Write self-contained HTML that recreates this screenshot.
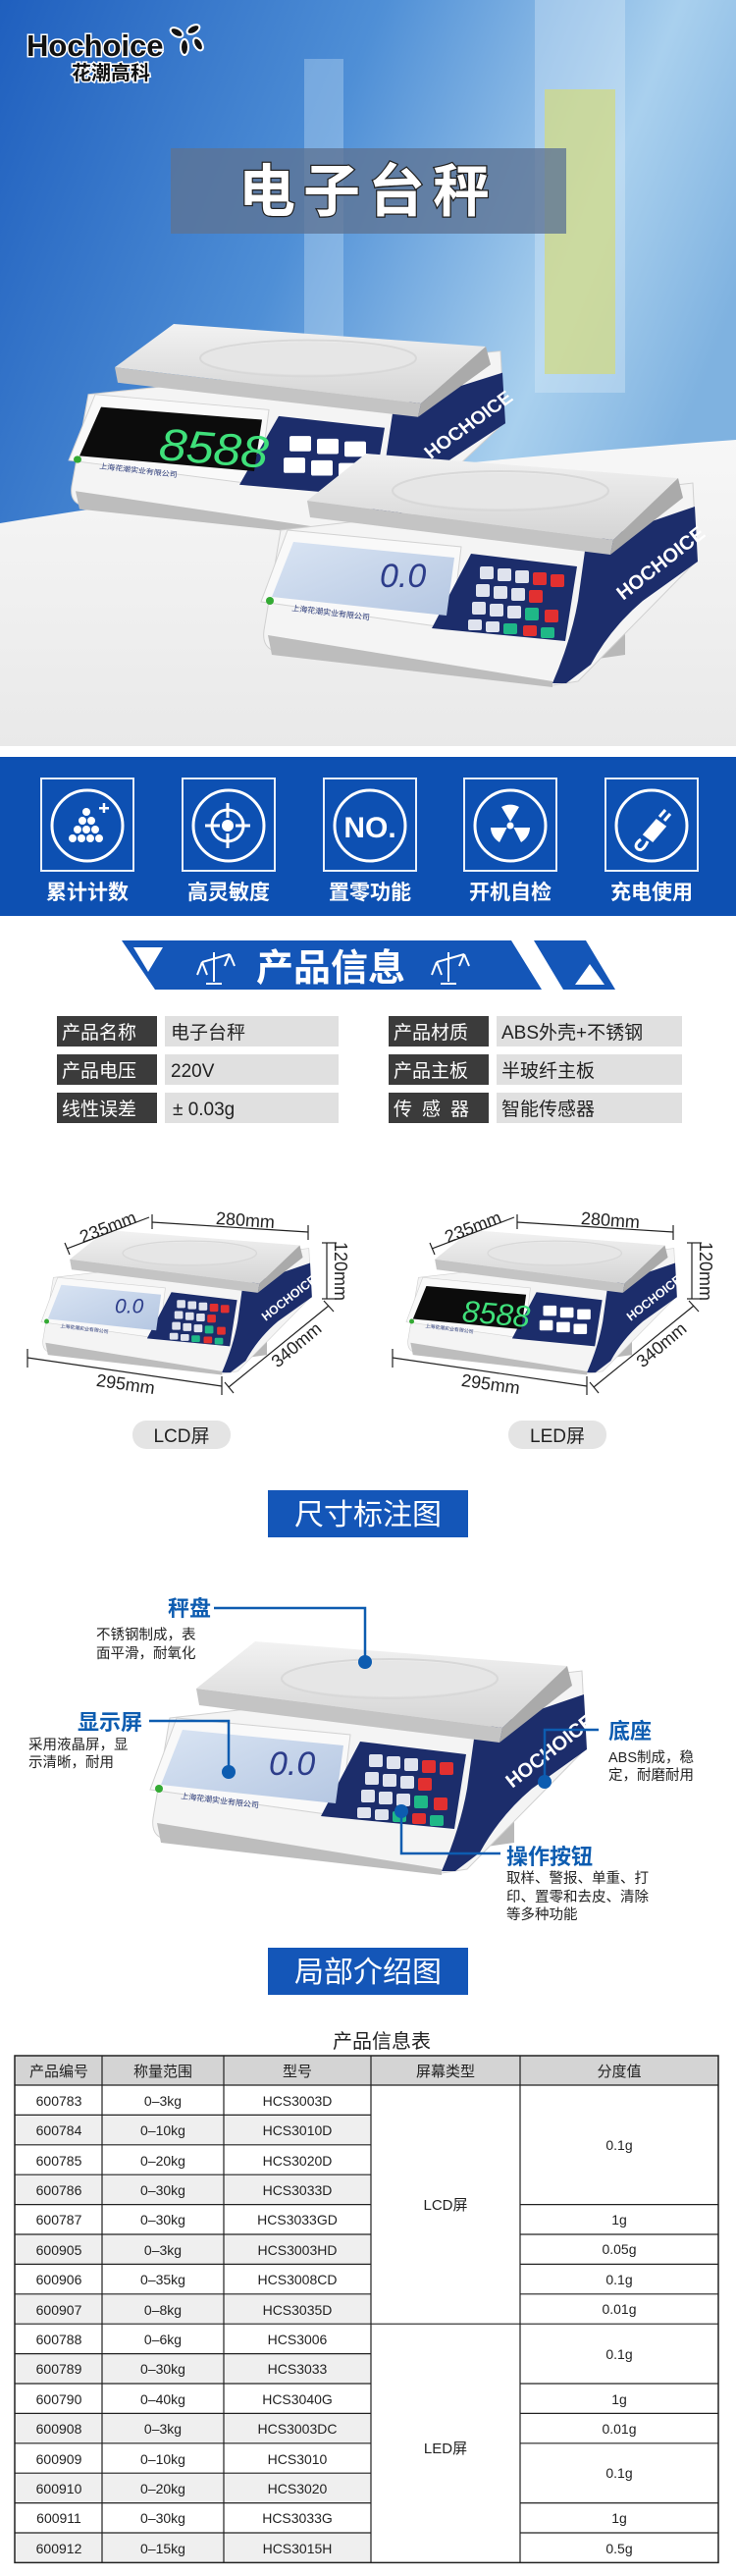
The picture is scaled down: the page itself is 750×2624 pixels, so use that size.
<!DOCTYPE html>
<html><head><meta charset="utf-8"><style>
html,body{margin:0;padding:0;background:#fff;}
svg{display:block}
</style></head><body>
<svg width="750" height="2624" viewBox="0 0 750 2624" xmlns="http://www.w3.org/2000/svg" font-family="'Liberation Sans','Noto Sans CJK SC',sans-serif">
<defs>
<linearGradient id="sky" x1="0" y1="0" x2="1" y2="0.4">
<stop offset="0" stop-color="#1f5fbe"/><stop offset="0.45" stop-color="#4f8fd6"/><stop offset="0.8" stop-color="#a9d0ee"/><stop offset="1" stop-color="#7fb2e0"/></linearGradient>
<linearGradient id="floor" x1="0" y1="0" x2="0" y2="1"><stop offset="0" stop-color="#f7f7f7"/><stop offset="1" stop-color="#e9e9e9"/></linearGradient>
<linearGradient id="pan" x1="0" y1="0" x2="0" y2="1"><stop offset="0" stop-color="#f2f2f2"/><stop offset="1" stop-color="#d4d4d4"/></linearGradient>
<linearGradient id="lcd" x1="0" y1="0" x2="1" y2="1"><stop offset="0" stop-color="#d9e4f3"/><stop offset="1" stop-color="#b5c7e2"/></linearGradient>
<g id="scale">
<polygon points="330,160 400,150 400,205 330,215" fill="#b8b8b8"/>
<path d="M49,78 L469,30 L473,109 L352,232 L326,236 L40,200 Q30,195 32,180 Z" fill="#f4f4f4" stroke="#d0d0d0" stroke-width="1"/>
<path d="M36,185 L326,232 L326,238 L40,205 Z" fill="#bdbdbd"/>
<path d="M360,92 L471,54 L474,110 L418,150 Q385,178 365,215 L340,234 L326,234 Q345,190 352,150 Z" fill="#1c2d6b"/>
<text x="0" y="0" transform="translate(398,150) rotate(-38)" font-size="20" font-weight="bold" fill="#fff" font-family="'Liberation Sans Narrow','Liberation Sans',sans-serif">HOCHOICE</text>
<polygon points="76,48 136,0 454,25 388,88" fill="url(#pan)"/>
<polygon points="76,48 388,88 385,103 79,65" fill="#c4c4c4"/>
<polygon points="388,88 454,25 459,45 385,103" fill="#aaa"/>
<ellipse cx="273" cy="38" rx="110" ry="20" fill="none" stroke="#d8d8d8" stroke-width="2"/>
<ellipse cx="273" cy="38" rx="108" ry="18" fill="#e6e6e6"/>
<polygon points="56,78 233,95 223,178 29,151" fill="#f9f9f9" stroke="#d2d2d2"/>
<polygon points="243,102 351,115 339,191 203,178" fill="#1c2d6b"/>
<circle cx="38" cy="150" r="4" fill="#3a3"/>
<text x="60" y="160" font-size="8" fill="#2a3a7a" transform="rotate(7 60 160)">上海花潮实业有限公司</text>
</g>
<g id="lcdscr">
<polygon points="62,90 226,106 218,165 40,146" fill="url(#lcd)"/>
<text x="150" y="136" font-size="34" font-style="italic" fill="#2d3d8a" font-family="'Liberation Sans Narrow','Liberation Sans',sans-serif">0.0</text>
<g fill="#dfe3ee"><rect x="252" y="115" width="14" height="13" rx="2"/><rect x="270" y="117" width="14" height="13" rx="2"/><rect x="288" y="119" width="14" height="13" rx="2"/><rect x="248" y="133" width="14" height="13" rx="2"/><rect x="266" y="135" width="14" height="13" rx="2"/><rect x="284" y="137" width="14" height="13" rx="2"/><rect x="244" y="151" width="14" height="13" rx="2"/><rect x="262" y="153" width="14" height="13" rx="2"/><rect x="280" y="155" width="14" height="13" rx="2"/><rect x="240" y="169" width="14" height="11" rx="2"/><rect x="258" y="171" width="14" height="11" rx="2"/></g>
<g fill="#e23030"><rect x="306" y="121" width="14" height="13" rx="2"/><rect x="324" y="123" width="14" height="13" rx="2"/><rect x="302" y="139" width="14" height="13" rx="2"/><rect x="318" y="159" width="14" height="13" rx="2"/><rect x="296" y="175" width="14" height="11" rx="2"/></g>
<g fill="#1fb887"><rect x="298" y="157" width="14" height="13" rx="2"/><rect x="276" y="173" width="14" height="11" rx="2"/><rect x="314" y="177" width="14" height="11" rx="2"/></g>
</g>
<g id="ledscr">
<polygon points="62,92 226,106 218,163 40,146" fill="#0c0c0c"/>
<text x="120" y="150" font-size="50" font-style="italic" fill="#3fe07a" font-family="'Liberation Sans Narrow','Liberation Sans',sans-serif" transform="rotate(5 120 150)">8588</text>
<g fill="#fff"><rect x="254" y="124" width="22" height="17" rx="2"/><rect x="282" y="127" width="22" height="17" rx="2"/><rect x="310" y="130" width="22" height="17" rx="2"/><rect x="248" y="148" width="22" height="17" rx="2"/><rect x="276" y="151" width="22" height="17" rx="2"/><rect x="304" y="154" width="22" height="17" rx="2"/></g>
</g>
</defs>

<!-- HERO -->
<rect x="0" y="0" width="750" height="760" fill="url(#sky)"/>
<rect x="555" y="91" width="72" height="290" fill="#c9cf46" opacity="0.75"/>
<rect x="545" y="0" width="92" height="400" fill="#dfeefa" opacity="0.35"/>
<rect x="310" y="60" width="40" height="420" fill="#cfe4f6" opacity="0.35"/>
<path d="M0,533 C200,500 450,470 750,448 L750,760 L0,760 Z" fill="url(#floor)"/>
<g font-weight="bold">
<text x="27" y="57" font-size="31" fill="#111" stroke="#fff" stroke-width="3" paint-order="stroke">Hochoice</text>
<text x="73" y="81" font-size="20" fill="#111" stroke="#fff" stroke-width="3" paint-order="stroke">花潮高科</text>
<g fill="#111" stroke="#fff" stroke-width="2"><ellipse cx="180" cy="33" rx="7" ry="4" transform="rotate(30 180 33)"/><ellipse cx="197" cy="30" rx="7" ry="4" transform="rotate(-30 197 30)"/><ellipse cx="188" cy="48" rx="4" ry="8"/><ellipse cx="202" cy="45" rx="4" ry="7" transform="rotate(-30 202 45)"/></g>
</g>
<rect x="174" y="151" width="403" height="87" fill="#5d7394" opacity="0.78"/>
<text x="375" y="215" text-anchor="middle" font-size="58" font-weight="bold" fill="#fff" stroke="#222" stroke-width="2.5" paint-order="stroke" letter-spacing="8">电子台秤</text>
<g transform="translate(41,330) scale(1.0,0.92)"><use href="#scale"/><use href="#ledscr"/></g>
<g transform="translate(237,462)"><use href="#scale"/><use href="#lcdscr"/></g>

<!-- BLUE BAND -->
<rect x="0" y="771" width="750" height="162" fill="#0d50b2"/>
<g fill="none" stroke="#e8f0fb" stroke-width="2">
<rect x="42" y="793" width="94" height="94"/><rect x="186" y="793" width="94" height="94"/><rect x="330" y="793" width="94" height="94"/><rect x="473" y="793" width="94" height="94"/><rect x="617" y="793" width="94" height="94"/>
</g>
<g fill="none" stroke="#fff" stroke-width="3">
<circle cx="89" cy="841" r="36"/><circle cx="233" cy="841" r="36"/><circle cx="377" cy="841" r="36"/><circle cx="520" cy="841" r="36"/><circle cx="664" cy="841" r="36"/>
</g>
<g fill="#fff">
<circle cx="88" cy="827" r="4"/><circle cx="84" cy="836" r="4"/><circle cx="93" cy="836" r="4"/><circle cx="79" cy="845" r="4"/><circle cx="88" cy="845" r="4"/><circle cx="97" cy="845" r="4"/><circle cx="74" cy="854" r="4"/><circle cx="83" cy="854" r="4"/><circle cx="92" cy="854" r="4"/><circle cx="101" cy="854" r="4"/>
<rect x="101" y="822" width="10" height="2.5"/><rect x="104.7" y="818" width="2.5" height="10"/>
<circle cx="232" cy="841" r="6"/>
<text x="377" y="853" text-anchor="middle" font-size="30" font-weight="bold" font-family="'Liberation Sans Narrow','Liberation Sans',sans-serif">NO.</text>
<circle cx="520" cy="841" r="3.5"/>
<path d="M520,837 L511,822 A18,18 0 0 1 529,822 Z"/>
<path d="M523.5,843 L540,843 A18,18 0 0 1 531,858 Z"/>
<path d="M516.5,843 L500,843 A18,18 0 0 0 509,858 Z"/>
</g>
<g fill="none" stroke="#fff" stroke-width="3">
<circle cx="232" cy="841" r="16"/><line x1="232" y1="818" x2="232" y2="833"/><line x1="232" y1="849" x2="232" y2="864"/><line x1="209" y1="841" x2="224" y2="841"/><line x1="240" y1="841" x2="255" y2="841"/>
<path d="M653,855 q-8,6 -3,10 q5,3 10,-8"/><path d="M657,850 l12,-14 8,6 -12,14 z" fill="#fff"/><line x1="672" y1="832" x2="678" y2="825"/><line x1="677" y1="836" x2="683" y2="829"/>
</g>
<g fill="#fff" font-size="21" font-weight="bold" text-anchor="middle">
<text x="89" y="916">累计计数</text><text x="233" y="916">高灵敏度</text><text x="377" y="916">置零功能</text><text x="520" y="916">开机自检</text><text x="664" y="916">充电使用</text>
</g>

<!-- PRODUCT INFO BANNER -->
<polygon points="124,958 521,958 552,1008 158,1008" fill="#1456b8"/>
<polygon points="544,958 597,958 627,1008 574,1008" fill="#1456b8"/>
<polygon points="136,965 166,965 151,990" fill="#fff"/>
<polygon points="601,982 616,1003 586,1003" fill="#fff"/>
<g fill="none" stroke="#fff" stroke-width="2">
<path d="M218,970 L218,1000 M210,1002 L226,1002 M206,980 L234,972 M206,980 L201,993 M206,980 L211,993 M234,972 L229,984 M234,972 L239,984"/>
<path d="M457,970 L457,1000 M449,1002 L465,1002 M445,980 L473,972 M445,980 L440,993 M445,980 L450,993 M473,972 L468,984 M473,972 L478,984"/>
</g>
<text x="337" y="999" text-anchor="middle" font-size="38" fill="#fff" font-weight="bold">产品信息</text>

<!-- SPEC TABLE -->
<g font-size="19">
<rect x="58" y="1035" width="102" height="31" fill="#3b3b3b"/><rect x="168" y="1035" width="177" height="31" fill="#e0e0e0"/>
<rect x="58" y="1074" width="102" height="31" fill="#3b3b3b"/><rect x="168" y="1074" width="177" height="31" fill="#e0e0e0"/>
<rect x="58" y="1113" width="102" height="31" fill="#3b3b3b"/><rect x="168" y="1113" width="177" height="31" fill="#e0e0e0"/>
<rect x="396" y="1035" width="102" height="31" fill="#3b3b3b"/><rect x="506" y="1035" width="189" height="31" fill="#e0e0e0"/>
<rect x="396" y="1074" width="102" height="31" fill="#3b3b3b"/><rect x="506" y="1074" width="189" height="31" fill="#e0e0e0"/>
<rect x="396" y="1113" width="102" height="31" fill="#3b3b3b"/><rect x="506" y="1113" width="189" height="31" fill="#e0e0e0"/>
<g fill="#fff"><text x="63" y="1058">产品名称</text><text x="63" y="1097">产品电压</text><text x="63" y="1136">线性误差</text>
<text x="401" y="1058">产品材质</text><text x="401" y="1097">产品主板</text><text x="401" y="1136" letter-spacing="10">传感器</text></g>
<g fill="#222"><text x="174" y="1058">电子台秤</text><text x="174" y="1097">220V</text><text x="176" y="1136">± 0.03g</text>
<text x="511" y="1058">ABS外壳+不锈钢</text><text x="511" y="1097">半玻纤主板</text><text x="511" y="1136">智能传感器</text></g>
</g>

<!-- DIMENSION SCALES -->
<g transform="translate(24,1253) scale(0.62)"><use href="#scale"/><use href="#lcdscr"/></g>
<g transform="translate(396,1253) scale(0.62)"><use href="#scale"/><use href="#ledscr"/></g>
<g id="dims" stroke="#222" stroke-width="1.2" fill="none">
<line x1="155" y1="1245" x2="314" y2="1255"/><line x1="155" y1="1237" x2="155" y2="1252"/><line x1="314" y1="1248" x2="314" y2="1263"/>
<line x1="68" y1="1272" x2="152" y2="1240"/><line x1="66" y1="1266" x2="71" y2="1278"/>
<line x1="333" y1="1266" x2="333" y2="1323"/><line x1="328" y1="1266" x2="343" y2="1266"/><line x1="328" y1="1323" x2="343" y2="1323"/>
<line x1="28" y1="1383" x2="226" y2="1412"/><line x1="28" y1="1374" x2="28" y2="1393"/><line x1="226" y1="1402" x2="226" y2="1421"/>
<line x1="233" y1="1413" x2="335" y2="1330"/><line x1="229" y1="1408" x2="238" y2="1419"/><line x1="330" y1="1325" x2="340" y2="1336"/>
</g>
<g font-size="18" fill="#222">
<text x="250" y="1249" text-anchor="middle" transform="rotate(4 250 1243)">280mm</text>
<text x="110" y="1256" text-anchor="middle" transform="rotate(-21 110 1250)">235mm</text>
<text x="347" y="1301" text-anchor="middle" transform="rotate(90 347 1295)">120mm</text>
<text x="128" y="1416" text-anchor="middle" transform="rotate(8 128 1410)">295mm</text>
<text x="302" y="1376" text-anchor="middle" transform="rotate(-40 302 1370)">340mm</text>
</g>
<use href="#dims" transform="translate(372,0)"/>
<g font-size="18" fill="#222">
<text x="622" y="1249" text-anchor="middle" transform="rotate(4 622 1243)">280mm</text>
<text x="482" y="1256" text-anchor="middle" transform="rotate(-21 482 1250)">235mm</text>
<text x="719" y="1301" text-anchor="middle" transform="rotate(90 719 1295)">120mm</text>
<text x="500" y="1416" text-anchor="middle" transform="rotate(8 500 1410)">295mm</text>
<text x="674" y="1376" text-anchor="middle" transform="rotate(-40 674 1370)">340mm</text>
</g>
<rect x="135" y="1447" width="100" height="29" rx="14" fill="#e4e4e4"/>
<rect x="518" y="1447" width="100" height="29" rx="14" fill="#e4e4e4"/>
<text x="185" y="1469" text-anchor="middle" font-size="19" fill="#222">LCD屏</text>
<text x="568" y="1469" text-anchor="middle" font-size="19" fill="#222">LED屏</text>

<rect x="273" y="1518" width="204" height="48" fill="#1456b8"/>
<text x="375" y="1553" text-anchor="middle" font-size="30" fill="#fff">尺寸标注图</text>

<!-- CALLOUT SECTION -->
<g transform="translate(124,1672)"><use href="#scale"/><use href="#lcdscr"/></g>
<g stroke="#0d5cb0" stroke-width="2.5" fill="none">
<path d="M218,1638 L372,1638 L372,1693"/>
<path d="M152,1753 L233,1753 L233,1805"/>
<path d="M610,1762 L555,1762 L555,1815"/>
<path d="M510,1888 L409,1888 L409,1845"/>
</g>
<g fill="#0d5cb0"><circle cx="372" cy="1693" r="7"/><circle cx="233" cy="1805" r="7"/><circle cx="555" cy="1815" r="7"/><circle cx="409" cy="1845" r="7"/></g>
<g fill="#0d5cb0" font-weight="bold" font-size="22">
<text x="171" y="1646">秤盘</text><text x="79" y="1762">显示屏</text><text x="620" y="1771">底座</text><text x="516" y="1899">操作按钮</text>
</g>
<g fill="#222" font-size="14.5">
<text x="98" y="1670">不锈钢制成，表</text><text x="98" y="1689">面平滑，耐氧化</text>
<text x="29" y="1782">采用液晶屏，显</text><text x="29" y="1800">示清晰，耐用</text>
<text x="620" y="1795">ABS制成，稳</text><text x="620" y="1813">定，耐磨耐用</text>
<text x="516" y="1918">取样、警报、单重、打</text><text x="516" y="1937">印、置零和去皮、清除</text><text x="516" y="1955">等多种功能</text>
</g>
<rect x="273" y="1984" width="204" height="48" fill="#1456b8"/>
<text x="375" y="2019" text-anchor="middle" font-size="30" fill="#fff">局部介绍图</text>

<!-- PRODUCT TABLE -->
<text x="389" y="2086" text-anchor="middle" font-size="20" fill="#222">产品信息表</text>
<rect x="15" y="2094" width="717" height="30" fill="#d4d4d4"/>
<g fill="#efefef">
<rect x="15" y="2154.4" width="363" height="30.4"/><rect x="15" y="2215.2" width="363" height="30.4"/><rect x="15" y="2276" width="363" height="30.4"/><rect x="15" y="2336.8" width="363" height="30.4"/>
<rect x="15" y="2397.6" width="363" height="30.4"/><rect x="15" y="2458.4" width="363" height="30.4"/><rect x="15" y="2519.2" width="363" height="30.4"/><rect x="15" y="2580" width="363" height="30.4"/>
</g>
<g stroke="#222" stroke-width="1.2">
<rect x="15" y="2094" width="717" height="516.4" fill="none" stroke-width="1.5"/>
<line x1="104" y1="2094" x2="104" y2="2610"/><line x1="228" y1="2094" x2="228" y2="2610"/><line x1="378" y1="2094" x2="378" y2="2610"/><line x1="530" y1="2094" x2="530" y2="2610"/>
<line x1="15" y1="2124" x2="732" y2="2124"/>
<line x1="15" y1="2154.4" x2="378" y2="2154.4"/><line x1="15" y1="2184.8" x2="378" y2="2184.8"/><line x1="15" y1="2215.2" x2="378" y2="2215.2"/>
<line x1="15" y1="2245.6" x2="378" y2="2245.6"/><line x1="530" y1="2245.6" x2="732" y2="2245.6"/>
<line x1="15" y1="2276" x2="378" y2="2276"/><line x1="530" y1="2276" x2="732" y2="2276"/>
<line x1="15" y1="2306.4" x2="378" y2="2306.4"/><line x1="530" y1="2306.4" x2="732" y2="2306.4"/>
<line x1="15" y1="2336.8" x2="378" y2="2336.8"/><line x1="530" y1="2336.8" x2="732" y2="2336.8"/>
<line x1="15" y1="2367.2" x2="732" y2="2367.2"/>
<line x1="15" y1="2397.6" x2="378" y2="2397.6"/>
<line x1="15" y1="2428" x2="378" y2="2428"/><line x1="530" y1="2428" x2="732" y2="2428"/>
<line x1="15" y1="2458.4" x2="378" y2="2458.4"/><line x1="530" y1="2458.4" x2="732" y2="2458.4"/>
<line x1="15" y1="2488.8" x2="378" y2="2488.8"/><line x1="530" y1="2488.8" x2="732" y2="2488.8"/>
<line x1="15" y1="2519.2" x2="378" y2="2519.2"/>
<line x1="15" y1="2549.6" x2="378" y2="2549.6"/><line x1="530" y1="2549.6" x2="732" y2="2549.6"/>
<line x1="15" y1="2580" x2="378" y2="2580"/><line x1="530" y1="2580" x2="732" y2="2580"/>
</g>
<g font-size="14" fill="#222" text-anchor="middle" font-family="'Liberation Sans Narrow','Liberation Sans','Noto Sans CJK SC',sans-serif">
<text x="60" y="2115" font-size="15">产品编号</text><text x="166" y="2115" font-size="15">称量范围</text><text x="303" y="2115" font-size="15">型号</text><text x="454" y="2115" font-size="15">屏幕类型</text><text x="631" y="2115" font-size="15">分度值</text>
<text x="60" y="2145">600783</text><text x="166" y="2145">0–3kg</text><text x="303" y="2145">HCS3003D</text>
<text x="60" y="2175">600784</text><text x="166" y="2175">0–10kg</text><text x="303" y="2175">HCS3010D</text>
<text x="60" y="2206">600785</text><text x="166" y="2206">0–20kg</text><text x="303" y="2206">HCS3020D</text>
<text x="60" y="2236">600786</text><text x="166" y="2236">0–30kg</text><text x="303" y="2236">HCS3033D</text>
<text x="60" y="2266">600787</text><text x="166" y="2266">0–30kg</text><text x="303" y="2266">HCS3033GD</text>
<text x="60" y="2297">600905</text><text x="166" y="2297">0–3kg</text><text x="303" y="2297">HCS3003HD</text>
<text x="60" y="2327">600906</text><text x="166" y="2327">0–35kg</text><text x="303" y="2327">HCS3008CD</text>
<text x="60" y="2358">600907</text><text x="166" y="2358">0–8kg</text><text x="303" y="2358">HCS3035D</text>
<text x="60" y="2388">600788</text><text x="166" y="2388">0–6kg</text><text x="303" y="2388">HCS3006</text>
<text x="60" y="2418">600789</text><text x="166" y="2418">0–30kg</text><text x="303" y="2418">HCS3033</text>
<text x="60" y="2449">600790</text><text x="166" y="2449">0–40kg</text><text x="303" y="2449">HCS3040G</text>
<text x="60" y="2479">600908</text><text x="166" y="2479">0–3kg</text><text x="303" y="2479">HCS3003DC</text>
<text x="60" y="2510">600909</text><text x="166" y="2510">0–10kg</text><text x="303" y="2510">HCS3010</text>
<text x="60" y="2540">600910</text><text x="166" y="2540">0–20kg</text><text x="303" y="2540">HCS3020</text>
<text x="60" y="2570">600911</text><text x="166" y="2570">0–30kg</text><text x="303" y="2570">HCS3033G</text>
<text x="60" y="2601">600912</text><text x="166" y="2601">0–15kg</text><text x="303" y="2601">HCS3015H</text>
<text x="454" y="2251" font-size="15">LCD屏</text><text x="454" y="2499" font-size="15">LED屏</text>
<text x="631" y="2190">0.1g</text><text x="631" y="2266">1g</text><text x="631" y="2296">0.05g</text><text x="631" y="2327">0.1g</text><text x="631" y="2357">0.01g</text>
<text x="631" y="2403">0.1g</text><text x="631" y="2449">1g</text><text x="631" y="2479">0.01g</text><text x="631" y="2524">0.1g</text><text x="631" y="2570">1g</text><text x="631" y="2601">0.5g</text>
</g>
</svg>
</body></html>
